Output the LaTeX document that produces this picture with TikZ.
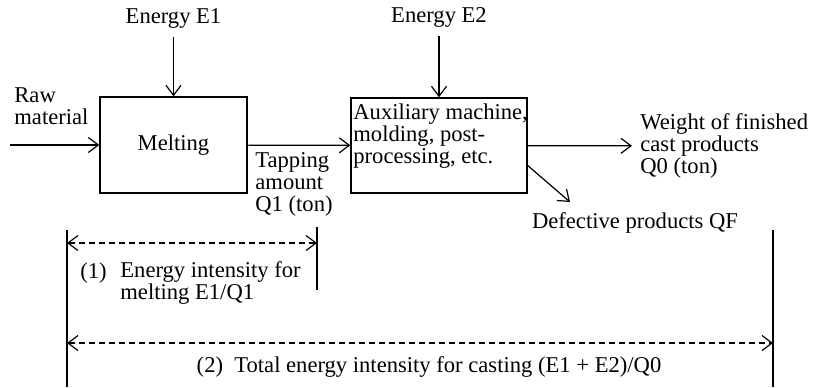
\documentclass[tikz,border=0pt]{standalone}
\usepackage{fontspec}
\setmainfont{Liberation Serif}
\usetikzlibrary{arrows.meta,positioning}
\tikzset{
myBox/.style={
	rectangle,draw,line width=0.7pt,
	inner sep=0pt
}
, myText/.style={
	inner sep=0pt,align=left
}
% links
, myFlow/.style={-{Straight Barb[length=5pt,width=7.5pt]},line width=0.6pt}
, myFeed/.style={myFlow,shorten <=4.5pt}
, myDim/.style={{Straight Barb[length=5pt,width=7.5pt]}-{Straight Barb[length=5pt,width=7.5pt]},
	densely dashed,line width=0.6pt}
, myEdge/.style={line width=0.9pt}
}

\begin{document}
\begin{tikzpicture}[x=0.5pt,y=-0.5pt,font=\fontsize{11.3}{11}\selectfont]
	\useasboundingbox (0,0) rectangle (815,387);
	% boxes
	\node[myBox,minimum width=73.5pt,minimum height=48pt] (melt) at (173.5,145) {Melting};
	\node[myBox,minimum width=88pt,minimum height=47.5pt] (aux) at (439,145.5) {};
	\node[myText,anchor=west] (auxText) at (353,136) {Auxiliary machine,\\molding, post-\\processing, etc.};
	% energy
	\node[inner sep=0pt] (e1) at (173.5,18) {Energy E1};
	\node[inner sep=0pt] (e2) at (439,17) {Energy E2};
	\draw[myFeed] (e1) -- (melt);
	\draw[myFeed] (e2) -- (aux);
	% material flow
	\node[myText,anchor=west] (raw) at (14,106) {Raw\\material};
	\coordinate (rawIn) at (10,145);
	\draw[myFlow] (rawIn) -- (melt);
	\node[myText,anchor=west] (tap) at (255,184) {Tapping\\amount\\Q1 (ton)};
	\draw[myFlow] (melt) -- (aux);
	\node[myText,anchor=west] (fin) at (640,146) {Weight of finished\\cast products\\Q0 (ton)};
	\draw[myFlow,shorten >=4pt] (aux) -- (fin);
	\node[inner sep=0pt] (def) at (635,223) {Defective products QF};
	\coordinate (defEnd) at (570,202);
	\draw[myFlow] ([yshift=-10pt]aux.east) -- (defEnd);
	% ranges
	\coordinate (leftTop) at (67,230);
	\coordinate (leftBot) at (67,387);
	\coordinate (midTop) at (317,227);
	\coordinate (midBot) at (317,290);
	\coordinate (rightTop) at (773,230);
	\coordinate (rightBot) at (773,387);
	\draw[myEdge] (leftTop) -- (leftBot);
	\draw[myEdge] (midTop) -- (midBot);
	\draw[myEdge] (rightTop) -- (rightBot);
	\coordinate (d1L) at (67,243);
	\coordinate (d1R) at (317,243);
	\coordinate (d2L) at (67,343);
	\coordinate (d2R) at (773,343);
	\draw[myDim] (d1L) -- (d1R);
	\draw[myDim] (d2L) -- (d2R);
	\node[inner sep=0pt,anchor=west] (lbl1) at (80,273) {(1)};
	\node[myText,anchor=west] (txt1) at (120,283) {Energy intensity for\\melting E1/Q1};
	\node[inner sep=0pt] (txt2) at (429,367) {(2)\ \ Total energy intensity for casting (E1 + E2)/Q0};
\end{tikzpicture}
\end{document}
